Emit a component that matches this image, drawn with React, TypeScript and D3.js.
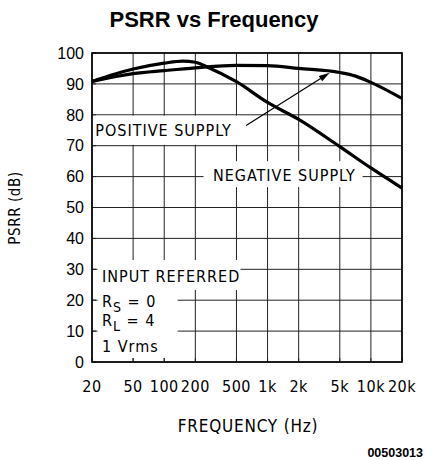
import React from 'react';
import * as d3 from 'd3';

const width = 426;
const height = 460;
const margin = {top: 53, right: 24, bottom: 98, left: 92};

// frequency (Hz) and PSRR (dB)
const negFreq = [20, 50, 100, 150, 200, 260, 500, 1000, 2000, 5000, 10000, 20000];
const negPsrr = [90.8, 94.8, 96.7, 97.4, 97.0, 95.5, 90.7, 84.0, 78.5, 69.7, 62.8, 56.3];
const posFreq = [20, 50, 100, 200, 500, 1000, 2000, 5000, 7000, 10000, 20000];
const posPsrr = [90.8, 93.3, 94.3, 95.2, 96.0, 95.9, 95.0, 93.7, 92.6, 90.5, 85.3];

const xTicks = [20, 50, 100, 200, 500, 1000, 2000, 5000, 10000, 20000];
const xTickLabels = ['20', '50', '100', '200', '500', '1k', '2k', '5k', '10k', '20k'];
const yTicks = [0, 10, 20, 30, 40, 50, 60, 70, 80, 90, 100];

// white label areas that break the grid, in data units [f0, f1, dB0, dB1]
const gaps = [
  [20, 540, 70.3, 79.7],
  [237, 8200, 56.6, 65],
  [22.3, 540, 23.3, 33],
  [22.3, 133, 1.3, 23.3],
];

const cad = '"DejaVu Sans Condensed", "DejaVu Sans", sans-serif';
const arial = '"Liberation Sans", Arial, sans-serif';

export default function App() {
  const x = d3.scaleLog().domain([20, 20000]).range([margin.left, width - margin.right]);
  const y = d3.scaleLinear().domain([0, 100]).range([height - margin.bottom, margin.top]);
  const line = d3.line<[number, number]>()
    .x(d => x(d[0]))
    .y(d => y(d[1]))
    .curve(d3.curveMonotoneX);

  const neg = line(negFreq.map((f, i) => [f, negPsrr[i]]));
  const pos = line(posFreq.map((f, i) => [f, posPsrr[i]]));

  const x0 = x.range()[0], x1 = x.range()[1];
  const y0 = y.range()[0], y1 = y.range()[1];

  // arrow from the positive supply label to its curve
  const a0 = [x(620), y(76.5)];
  const a1 = [x(4000), y(93.6)];
  const ang = Math.atan2(a1[1] - a0[1], a1[0] - a0[0]);
  const hl = 11, hw = 3.2;
  const head = [
    [a1[0], a1[1]],
    [a1[0] - hl * Math.cos(ang) + hw * Math.sin(ang), a1[1] - hl * Math.sin(ang) - hw * Math.cos(ang)],
    [a1[0] - hl * Math.cos(ang) - hw * Math.sin(ang), a1[1] - hl * Math.sin(ang) + hw * Math.cos(ang)],
  ];

  return (
    <svg width={width} height={height} style={{position: 'absolute', left: 0, top: 0, background: '#fff'}}>
      <text x={214} y={27} textAnchor='middle' fontFamily={arial} fontWeight='bold' fontSize={22}>PSRR vs Frequency</text>

      {/* grid */}
      <g stroke='#222' strokeWidth={1}>
        {xTicks.map(t => <line key={'x' + t} x1={x(t)} x2={x(t)} y1={y0} y2={y1} />)}
        {yTicks.map(t => <line key={'y' + t} x1={x0} x2={x1} y1={y(t)} y2={y(t)} />)}
      </g>
      {gaps.map((g, i) => (
        <rect key={i} x={x(g[0]) + 0.6} y={y(g[3])} width={x(g[1]) - x(g[0])}
          height={y(g[2]) - y(g[3])} fill='#fff' />
      ))}
      {/* inner tick stubs */}
      <g stroke='#222' strokeWidth={1}>
        {yTicks.map(t => <line key={'ly' + t} x1={x0} x2={x0 + 4} y1={y(t)} y2={y(t)} />)}
        {xTicks.map(t => <line key={'bx' + t} x1={x(t)} x2={x(t)} y1={y0} y2={y0 - 4} />)}
      </g>
      <rect x={x0} y={y1} width={x1 - x0} height={y0 - y1} fill='none' stroke='#000' strokeWidth={1.6} />

      {/* curves */}
      <path d={neg} fill='none' stroke='#000' strokeWidth={3.2} />
      <path d={pos} fill='none' stroke='#000' strokeWidth={3.2} />

      <line x1={a0[0]} y1={a0[1]} x2={a1[0] - 8 * Math.cos(ang)} y2={a1[1] - 8 * Math.sin(ang)} stroke='#000' strokeWidth={1.2} />
      <polygon points={head.map(p => p.join(',')).join(' ')} fill='#000' />

      {/* annotations */}
      <g fontFamily={cad} fontSize={16} letterSpacing={1} fill='#000'>
        <text x={x(21.5)} y={y(73.2)}>POSITIVE SUPPLY</text>
        <text x={x(296)} y={y(58.5)}>NEGATIVE SUPPLY</text>
        <text x={x(25)} y={y(25.9)}>INPUT REFERRED</text>
        <text x={x(25)} y={y(17.8)}>R<tspan fontSize={14} dy={5}>S</tspan><tspan dy={-5}> = 0</tspan></text>
        <text x={x(25)} y={y(11.6)}>R<tspan fontSize={14} dy={5}>L</tspan><tspan dy={-5}> = 4</tspan></text>
        <text x={x(25)} y={y(3.2)}>1 Vrms</text>
      </g>

      {/* axes labels */}
      <g fontFamily={arial} fontSize={16} textAnchor='end'>
        {yTicks.map(t => <text key={t} x={x0 - 8} y={y(t)} dy='0.36em'>{t}</text>)}
      </g>
      <g fontFamily={cad} fontSize={16} letterSpacing={0.5} textAnchor='middle'>
        {xTicks.map((t, i) => <text key={t} x={x(t)} y={y0 + 30}>{xTickLabels[i]}</text>)}
      </g>
      <text x={248} y={432} textAnchor='middle' fontFamily={cad} fontSize={17} letterSpacing={0.8}>FREQUENCY (Hz)</text>
      <text transform='translate(20, 208) rotate(-90)' textAnchor='middle' fontFamily={cad} fontSize={15} letterSpacing={0.6}>PSRR (dB)</text>
      <text x={423} y={457} textAnchor='end' fontFamily={arial} fontSize={12.5} fontWeight={600}>00503013</text>
    </svg>
  );
}
